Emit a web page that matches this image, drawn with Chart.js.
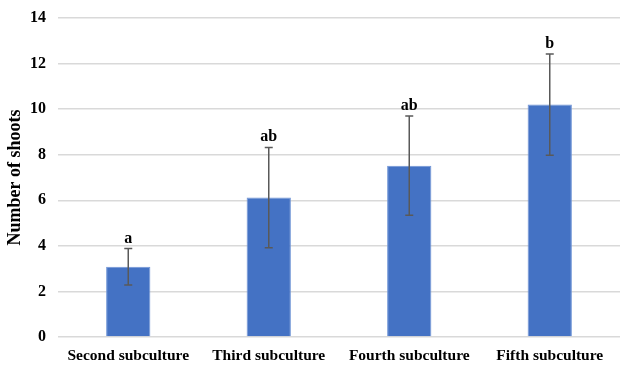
<!DOCTYPE html>
<html>
<head>
<meta charset="utf-8">
<script src="https://cdn.jsdelivr.net/npm/chart.js@4/dist/chart.umd.min.js"></script>
<style>
    html, body { margin: 0; padding: 0; background: #fff; }
    #wrap { width: 620px; height: 365px; position: relative; }
</style>
</head>
<body>
<div id="wrap"><canvas id="shootsChart"></canvas></div>
<script>
// Chart data
const categories = ['Second subculture', 'Third subculture', 'Fourth subculture', 'Fifth subculture'];
const meanShoots = [3.08, 6.12, 7.52, 10.2];
const errShoots = [0.8, 2.2, 2.18, 2.22];
const letters = ['a', 'ab', 'ab', 'b'];
const yTicks = [0, 2, 4, 6, 8, 10, 12, 14];

const serif = '"Liberation Serif", "Times New Roman", serif';

// Error bars + significance letters, drawn through the scales
const errorBarPlugin = {
    id: 'errorBars',
    afterDatasetsDraw(chart) {
        const ctx = chart.ctx;
        const x = chart.scales.x;
        const y = chart.scales.y;
        ctx.save();
        meanShoots.forEach((m, i) => {
            const cx = x.getPixelForValue(i);
            const top = y.getPixelForValue(m + errShoots[i]);
            const bot = y.getPixelForValue(m - errShoots[i]);
            ctx.strokeStyle = '#595959';
            ctx.lineWidth = 1.5;
            ctx.beginPath();
            ctx.moveTo(cx, top); ctx.lineTo(cx, bot);
            ctx.moveTo(cx - 4, top); ctx.lineTo(cx + 4, top);
            ctx.moveTo(cx - 4, bot); ctx.lineTo(cx + 4, bot);
            ctx.stroke();

            ctx.fillStyle = '#000';
            ctx.font = 'bold 16px ' + serif;
            ctx.textAlign = 'center';
            ctx.textBaseline = 'alphabetic';
            ctx.fillText(letters[i], cx, top - 6);
        });
        ctx.restore();
    }
};

const ctx = document.getElementById('shootsChart');
new Chart(ctx, {
    type: 'bar',
    data: {
        labels: categories,
        datasets: [{
            data: meanShoots,
            backgroundColor: '#4472C4',
            borderColor: '#6f94d6',
            borderWidth: 1,
            barPercentage: 0.315,
            categoryPercentage: 1.0
        }]
    },
    options: {
        responsive: true,
        maintainAspectRatio: false,
        animation: false,
        layout: { padding: { top: 18, right: 0, bottom: 0, left: 0 } },
        plugins: {
            legend: { display: false },
            title: { display: false },
            tooltip: { enabled: false }
        },
        scales: {
            x: {
                grid: { display: false },
                border: { display: false },
                ticks: {
                    color: '#000',
                    padding: 2,
                    font: { family: serif, size: 15.5, weight: 'bold' },
                    maxRotation: 0
                },
                afterFit: (s) => { s.height = 28; s.paddingLeft = 0; s.paddingRight = 0; }
            },
            y: {
                min: 0,
                max: 14,
                afterBuildTicks: (s) => { s.ticks = yTicks.map(v => ({ value: v })); },
                grid: { color: '#d9d9d9', lineWidth: 1.5, drawTicks: false },
                border: { display: false },
                ticks: {
                    color: '#000',
                    padding: 12,
                    font: { family: serif, size: 16, weight: 'bold' }
                },
                title: {
                    display: true,
                    text: 'Number of shoots',
                    color: '#000',
                    padding: { top: 5, bottom: 0 },
                    font: { family: serif, size: 18, weight: 'bold' }
                },
                afterFit: (s) => { s.width = 58; s.paddingTop = 0; s.paddingBottom = 0; }
            }
        }
    },
    plugins: [errorBarPlugin]
});
</script>
</body>
</html>
